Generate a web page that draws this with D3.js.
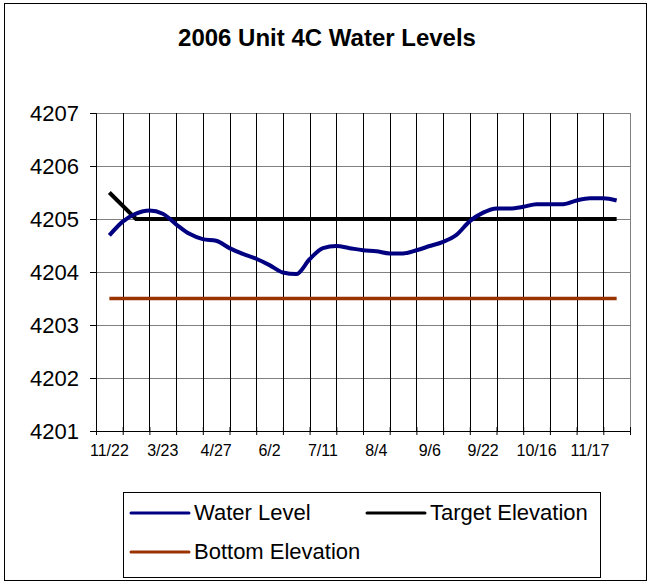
<!DOCTYPE html>
<html>
<head>
<meta charset="utf-8">
<script src="https://cdnjs.cloudflare.com/ajax/libs/d3/7.8.5/d3.min.js"></script>
<style>
  body { margin: 0; background: #fff; }
  text { font-family: "Liberation Sans", Arial, sans-serif; fill: #000; }
</style>
</head>
<body>
<div id="chart-area"></div>
<script>
// 20 categories on the axis, only every other one is labelled
var nCategories = 20;
var tickLabels = ["11/22", "3/23", "4/27", "6/2", "7/11", "8/4", "9/6", "9/22", "10/16", "11/17"];

// water level read at every half category (category centres and midpoints)
var waterLevel = [4204.69, 4204.95, 4205.10, 4205.16, 4205.10, 4204.90, 4204.72, 4204.62,
    4204.59, 4204.45, 4204.34, 4204.25, 4204.13, 4203.99, 4203.96, 4204.24, 4204.45,
    4204.49, 4204.45, 4204.41, 4204.39, 4204.35, 4204.35, 4204.41, 4204.49, 4204.57,
    4204.70, 4204.96, 4205.12, 4205.20, 4205.20, 4205.23, 4205.28, 4205.28, 4205.28,
    4205.35, 4205.39, 4205.39, 4205.35];

var targetElevation = [4205.5, 4205, 4205, 4205, 4205, 4205, 4205, 4205, 4205, 4205,
    4205, 4205, 4205, 4205, 4205, 4205, 4205, 4205, 4205, 4205];

var bottomElevation = [4203.5, 4203.5, 4203.5, 4203.5, 4203.5, 4203.5, 4203.5, 4203.5, 4203.5, 4203.5,
    4203.5, 4203.5, 4203.5, 4203.5, 4203.5, 4203.5, 4203.5, 4203.5, 4203.5, 4203.5];

var yTicks = [4201, 4202, 4203, 4204, 4205, 4206, 4207];

var margin = { left: 96, top: 113 };
var width = 534, height = 318;

var svg = d3.select("#chart-area")
    .append("svg")
        .attr("width", 651)
        .attr("height", 584);

// chart border
svg.append("rect")
    .attr("x", 4.5).attr("y", 3.5)
    .attr("width", 642).attr("height", 577)
    .attr("fill", "#fff")
    .attr("stroke", "#000");

// Title
svg.append("text")
    .attr("x", 327)
    .attr("y", 46)
    .attr("text-anchor", "middle")
    .attr("font-size", "24px")
    .attr("font-weight", "bold")
    .text("2006 Unit 4C Water Levels");

var g = svg.append("g")
    .attr("transform", "translate(" + margin.left + ", " + margin.top + ")");

// X Scale (category index, each category one unit wide)
var x = d3.scaleLinear()
    .domain([0, nCategories])
    .range([0, width]);

// Y Scale
var y = d3.scaleLinear()
    .domain([4201, 4207])
    .range([height, 0]);

// horizontal gridlines
g.selectAll(".hgrid")
    .data(yTicks)
    .enter().append("line")
        .attr("x1", 0).attr("x2", width)
        .attr("y1", function(d){ return Math.round(y(d)) + 0.5; })
        .attr("y2", function(d){ return Math.round(y(d)) + 0.5; })
        .attr("stroke", "#808080");

// vertical gridlines
g.selectAll(".vgrid")
    .data(d3.range(1, nCategories))
    .enter().append("line")
        .attr("x1", function(d){ return Math.round(x(d)) + 0.5; })
        .attr("x2", function(d){ return Math.round(x(d)) + 0.5; })
        .attr("y1", 0).attr("y2", height)
        .attr("stroke", "#000");

// right border of plot
g.append("line")
    .attr("x1", width + 0.5).attr("x2", width + 0.5)
    .attr("y1", 0).attr("y2", height)
    .attr("stroke", "#808080");

// Y Axis
var yAxisCall = d3.axisLeft(y)
    .tickValues(yTicks)
    .tickSize(6)
    .tickPadding(11)
    .tickFormat(function(d){ return d; });
var yAxisGroup = g.append("g")
    .attr("class", "y axis")
    .call(yAxisCall);
yAxisGroup.select(".domain").attr("stroke", "#000");
yAxisGroup.selectAll("text")
    .attr("font-size", "22px")
    .attr("font-family", "Liberation Sans, Arial, sans-serif");

// X Axis
var xAxisCall = d3.axisBottom(x)
    .tickValues(d3.range(0, nCategories + 1))
    .tickSize(4)
    .tickSizeOuter(0)
    .tickFormat("");
var xAxisGroup = g.append("g")
    .attr("class", "x axis")
    .attr("transform", "translate(0," + height + ")")
    .call(xAxisCall);
xAxisGroup.selectAll(".tick line").attr("y1", -4);

g.selectAll(".xlabel")
    .data(tickLabels)
    .enter().append("text")
        .attr("x", function(d, i){ return x(i * 2 + 0.5); })
        .attr("y", height + 25)
        .attr("text-anchor", "middle")
        .attr("font-size", "16px")
        .text(function(d){ return d; });

// Lines
var catLine = d3.line()
    .x(function(d, i){ return x(i + 0.5); })
    .y(function(d){ return y(d); });

g.append("path")
    .datum(bottomElevation)
    .attr("d", catLine)
    .attr("fill", "none")
    .attr("stroke", "#993300")
    .attr("stroke-width", 3.5);

g.append("path")
    .datum(targetElevation)
    .attr("d", catLine)
    .attr("fill", "none")
    .attr("stroke", "#000")
    .attr("stroke-width", 4)
    .attr("stroke-linejoin", "round");

var waterLine = d3.line()
    .x(function(d, i){ return x(i / 2 + 0.5); })
    .y(function(d){ return y(d); })
    .curve(d3.curveMonotoneX);

g.append("path")
    .datum(waterLevel)
    .attr("d", waterLine)
    .attr("fill", "none")
    .attr("stroke", "#000080")
    .attr("stroke-width", 4)
    .attr("stroke-linejoin", "round");

// Legend
var legend = svg.append("g");
legend.append("rect")
    .attr("x", 123.5).attr("y", 492.5)
    .attr("width", 477).attr("height", 85)
    .attr("fill", "#fff")
    .attr("stroke", "#000");

var legendItems = [
    { name: "Water Level", color: "#000080", x: 131, y: 513 },
    { name: "Target Elevation", color: "#000", x: 367, y: 513 },
    { name: "Bottom Elevation", color: "#993300", x: 131, y: 552 }
];

legendItems.forEach(function(d){
    legend.append("line")
        .attr("x1", d.x).attr("x2", d.x + 58)
        .attr("y1", d.y).attr("y2", d.y)
        .attr("stroke", d.color)
        .attr("stroke-width", 3)
        .attr("stroke-linecap", "round");
    legend.append("text")
        .attr("x", d.x + 63)
        .attr("y", d.y + 7)
        .attr("font-size", "22px")
        .text(d.name);
});
</script>
</body>
</html>
